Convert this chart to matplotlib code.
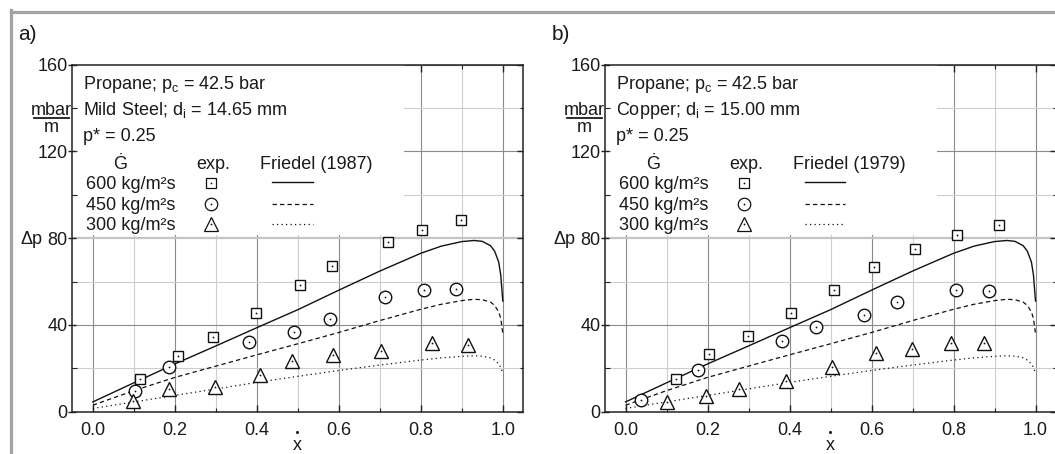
import matplotlib
matplotlib.use('Agg')
import matplotlib.pyplot as plt
from matplotlib.lines import Line2D
from matplotlib.patches import Rectangle
from matplotlib.ticker import MultipleLocator

plt.rcParams['font.family'] = ['Liberation Sans', 'DejaVu Sans']
plt.rcParams['mathtext.fontset'] = 'custom'
plt.rcParams['mathtext.rm'] = 'Liberation Sans'
plt.rcParams['mathtext.it'] = 'Liberation Sans:italic'

# ---------------- data ----------------
panel_labels = ['a)', 'b)']
fluid_line = 'Propane; p$_\\mathregular{c}$ = 42.5 bar'
tube_lines = ['Mild Steel; d$_\\mathregular{i}$ = 14.65 mm',
              'Copper; d$_\\mathregular{i}$ = 15.00 mm']
pressure_line = 'p* = 0.25'
model_names = ['Friedel (1987)', 'Friedel (1979)']
flux_labels = ['600 kg/m²s', '450 kg/m²s', '300 kg/m²s']

# panel a experiments
a_x600 = [0.114, 0.209, 0.293, 0.398, 0.506, 0.583, 0.721, 0.802, 0.899]
a_y600 = [15.1, 25.8, 34.6, 45.7, 58.3, 67.2, 78.0, 83.8, 88.4]
a_x450 = [0.104, 0.185, 0.382, 0.490, 0.579, 0.713, 0.809, 0.885]
a_y450 = [9.5, 20.5, 32.2, 36.6, 42.5, 52.8, 56.1, 56.6]
a_x300 = [0.098, 0.186, 0.298, 0.409, 0.485, 0.586, 0.702, 0.827, 0.914]
a_y300 = [5.1, 10.5, 11.3, 16.9, 23.3, 26.2, 28.0, 31.5, 30.8]

# panel b experiments
b_x600 = [0.123, 0.204, 0.298, 0.404, 0.509, 0.607, 0.705, 0.808, 0.910]
b_y600 = [15.1, 26.5, 35.1, 45.7, 56.0, 66.8, 75.1, 81.2, 86.1]
b_x450 = [0.038, 0.176, 0.382, 0.465, 0.581, 0.661, 0.806, 0.887]
b_y450 = [5.5, 19.2, 32.6, 39.2, 44.6, 50.5, 56.0, 55.4]
b_x300 = [0.101, 0.196, 0.276, 0.392, 0.504, 0.610, 0.699, 0.794, 0.874]
b_y300 = [4.6, 7.2, 10.5, 14.3, 20.8, 27.2, 28.9, 31.5, 31.5]

# Friedel correlation curves
curve_x = [0.0, 0.1, 0.2, 0.3, 0.4, 0.5, 0.6, 0.7, 0.8, 0.85, 0.9, 0.93,
           0.95, 0.97, 0.98, 0.99, 0.995, 1.0]
fr_600 = [4.5, 13.3, 22.0, 30.3, 38.7, 47.0, 56.0, 64.8, 73.0, 76.3, 78.4,
          78.9, 78.5, 76.5, 74.0, 69.0, 63.0, 51.0]
fr_450 = [3.0, 9.7, 15.8, 21.0, 26.2, 31.3, 36.5, 42.0, 47.2, 49.5, 51.2,
          51.8, 51.6, 50.5, 49.0, 46.0, 43.0, 36.0]
fr_300 = [1.5, 4.5, 7.5, 10.5, 13.5, 16.3, 19.0, 21.5, 23.8, 24.8, 25.5,
          25.8, 25.6, 24.8, 23.8, 22.0, 20.5, 17.5]

xticks = [0.0, 0.2, 0.4, 0.6, 0.8, 1.0]
xticklabels = ['0.0', '0.2', '0.4', '0.6', '0.8', '1.0']
yticks = [0, 40, 80, 120, 160]
yticklabels = ['0', '40', '80', '120', '160']

panels = [
    dict(x600=a_x600, y600=a_y600, x450=a_x450, y450=a_y450, x300=a_x300, y300=a_y300),
    dict(x600=b_x600, y600=b_y600, x450=b_x450, y450=b_y450, x300=b_x300, y300=b_y300),
]

# ---------------- layout ----------------
W, H = 1055, 454
fig = plt.figure(figsize=(W / 100, H / 100), dpi=100)
TXT = '#1a1a1a'
FS = 13

ax_left_px = [72.3, 605.0]
ax_w_px, ax_top_px, ax_bot_px = 451.0, 64.5, 411.7
ax_h_px = ax_bot_px - ax_top_px

# gray frame (top and left edges visible)
fig.add_artist(Line2D([11 / W, 1.0], [1 - 11.5 / H] * 2, transform=fig.transFigure,
                      color='#a3a3a3', lw=2.3))
fig.add_artist(Line2D([11 / W] * 2, [0.0, 1 - 10 / H], transform=fig.transFigure,
                      color='#a3a3a3', lw=2.3))

mk = dict(ls='none', mfc='white', mec='#111111', mew=1.0, zorder=4, clip_on=False)
styles = {
    '600': dict(ls='-', lw=1.0),
    '450': dict(ls=(0, (3.5, 2.5)), lw=0.9),
    '300': dict(ls=(0, (1, 2.6)), lw=0.9),
}
markers = {'600': ('s', 7.4), '450': ('o', 9.0), '300': ('^', 10.0)}


def af(dx, py):
    return dx / ax_w_px, (ax_bot_px - py) / ax_h_px


for i, p in enumerate(panels):
    left = ax_left_px[i]
    ax = fig.add_axes([left / W, (H - ax_bot_px) / H, ax_w_px / W, ax_h_px / H])
    ax.set_xlim(-0.05, 1.05)
    ax.set_ylim(0, 160)
    ax.set_axisbelow(True)

    ax.xaxis.set_major_locator(MultipleLocator(0.2))
    ax.xaxis.set_minor_locator(MultipleLocator(0.1))
    ax.set_xticks(xticks)
    ax.set_xticklabels(xticklabels)
    ax.yaxis.set_minor_locator(MultipleLocator(20))
    ax.set_yticks(yticks)
    ax.set_yticklabels(yticklabels)

    ax.grid(which='major', color='#8a8a8a', lw=0.8)
    ax.grid(which='minor', color='#cdcdcd', lw=0.8)
    # the 80 line appears light and thick in the reference
    ax.yaxis.get_gridlines()[2].set_color('#c4c4c4')
    ax.yaxis.get_gridlines()[2].set_linewidth(1.6)

    for s in ax.spines.values():
        s.set_color('#222222')
        s.set_linewidth(1.1)

    ax.tick_params(axis='x', which='both', direction='in', top=True, bottom=True,
                   colors='#222222', labelcolor=TXT, labelsize=FS)
    ax.tick_params(axis='x', which='major', length=5, width=1.0, pad=7.5)
    ax.tick_params(axis='x', which='minor', length=3, width=0.8)
    ax.tick_params(axis='y', which='major', direction='inout', length=5.5, width=1.0,
                   right=False, left=True, pad=0.5, labelsize=FS, colors='#222222',
                   labelcolor=TXT)
    ax.tick_params(axis='y', which='minor', direction='in', length=3.5, width=0.8,
                   right=False, left=True, colors='#222222')

    axr = ax.twinx()
    axr.set_ylim(0, 160)
    axr.set_yticks(yticks)
    axr.yaxis.set_minor_locator(MultipleLocator(20))
    axr.tick_params(axis='y', which='major', direction='in', length=4.5, width=1.0,
                    labelright=False, colors='#222222')
    axr.tick_params(axis='y', which='minor', direction='in', length=2.5, width=0.8,
                    colors='#222222')
    for s in axr.spines.values():
        s.set_visible(False)

    # white box behind the legend text
    bx0, by0 = af(6, 235)
    bx1, _ = af(404 - 72.3, 235)
    ax.add_patch(Rectangle((bx0, by0), bx1 - bx0, 1 - by0, transform=ax.transAxes,
                           facecolor='white', edgecolor='none', zorder=1))

    # model curves
    ax.plot(curve_x, fr_600, color='#111111', zorder=3, **styles['600'])
    ax.plot(curve_x, fr_450, color='#111111', zorder=3, **styles['450'])
    ax.plot(curve_x, fr_300, color='#111111', zorder=3, **styles['300'])

    # experiments
    for key in ['600', '450', '300']:
        m, ms = markers[key]
        xs, ys = p['x' + key], p['y' + key]
        ax.plot(xs, ys, marker=m, ms=ms, **mk)
        ax.plot(xs, ys, ls='none', marker='o', ms=1.3, mew=0, color='#111111', zorder=5)

    # legend text
    tkw = dict(transform=ax.transAxes, fontsize=FS, color=TXT, va='baseline', zorder=6)
    ax.text(*af(10.5, 88.6), fluid_line, ha='left', **tkw)
    ax.text(*af(10.5, 115.0), tube_lines[i], ha='left', **tkw)
    ax.text(*af(10.5, 141.3), pressure_line, ha='left', **tkw)
    ax.text(*af(47.7, 169.0), 'Ġ', ha='center', **tkw)
    ax.text(*af(140.7, 169.0), 'exp.', ha='center', **tkw)
    ax.text(*af(188.0, 169.0), model_names[i], ha='left', **tkw)
    row_base = [189.3, 209.6, 229.9]
    row_mid = [183.3, 204.0, 223.8]
    for j, key in enumerate(['600', '450', '300']):
        ax.text(*af(13.9, row_base[j]), flux_labels[j], ha='left', **tkw)
        m, ms = markers[key]
        mx, my = af(139.0, row_mid[j])
        ax.plot([mx], [my], marker=m, ms=ms, transform=ax.transAxes,
                **dict(mk, mew=0.9))
        ax.plot([mx], [my], ls='none', marker='o', ms=1.3, mew=0, color='#111111',
                transform=ax.transAxes, zorder=5)
        lx0, ly = af(199.7, row_mid[j] - (1.8 if j == 0 else 0))
        lx1, _ = af(240.4, row_mid[j])
        ax.plot([lx0, lx1], [ly, ly], color='#111111', transform=ax.transAxes,
                zorder=5, **styles[key])

    # axis labels
    okw = dict(transform=ax.transAxes, fontsize=FS, color=TXT, clip_on=False)
    ax.text(*af(-20.8, 115.0), 'mbar', ha='center', va='baseline', **okw)
    ax.text(*af(-20.8, 131.8), 'm', ha='center', va='baseline', **okw)
    ux0, uy = af(-38.5, 117.8)
    ux1, _ = af(-3.0, 117.8)
    ax.plot([ux0, ux1], [uy, uy], color=TXT, lw=1.3, transform=ax.transAxes,
            clip_on=False)
    ax.text(*af(-52.0, 244.0), 'Δp', ha='left', va='baseline', **okw)
    ax.text(*af(225.2, 449.5), 'x', ha='center', va='baseline', **okw)
    dx_, dy_ = af(225.2, 432.3)
    ax.plot([dx_], [dy_], marker='o', ms=2.2, mew=0, color=TXT, transform=ax.transAxes,
            clip_on=False)
    ax.text(*af(-53.7, 34.0), panel_labels[i], ha='left', va='center',
            transform=ax.transAxes, fontsize=15, color=TXT, clip_on=False)

fig.savefig('out.png', dpi=100)
